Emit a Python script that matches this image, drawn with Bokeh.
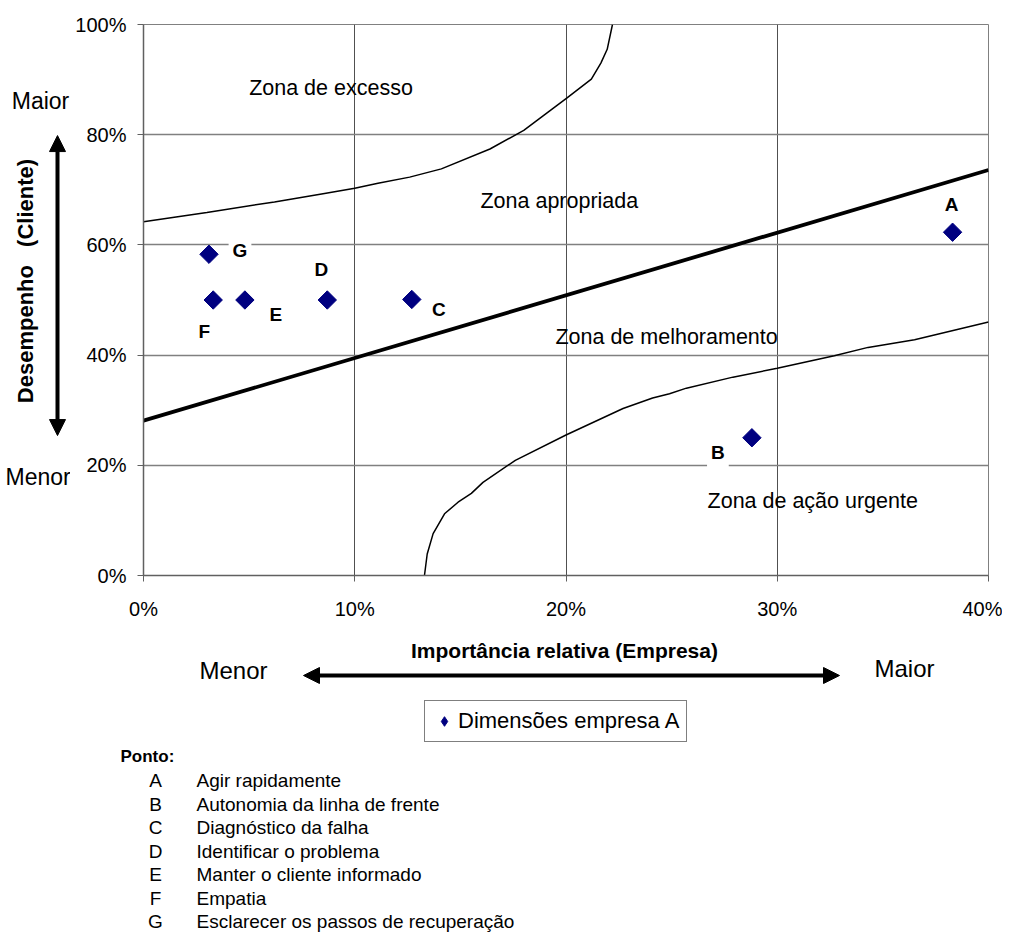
import numpy as np
from bokeh.plotting import figure
from bokeh.layouts import column, row
from bokeh.models import (ColumnDataSource, Label, Arrow, NormalHead, FixedTicker,
                          PrintfTickFormatter, Legend, LegendItem, Range1d)
from bokeh.embed import file_html
from bokeh.resources import INLINE

# ---------------- data ----------------
points = ["A", "B", "C", "D", "E", "F", "G"]
importance = [38.3, 28.8, 12.7, 8.7, 4.8, 3.3, 3.1]      # % (x)
performance = [62.3, 25.0, 50.1, 50.0, 50.0, 50.0, 58.3]  # % (y)
descriptions = [
    "Agir rapidamente",
    "Autonomia da linha de frente",
    "Diagnóstico da falha",
    "Identificar o problema",
    "Manter o cliente informado",
    "Empatia",
    "Esclarecer os passos de recuperação",
]

# straight boundary (apropriada / melhoramento)
mid_x = [0, 40]
mid_y = [28.1, 73.6]

# upper curve (excesso / apropriada)
upper_x = [0, 3.0, 6.2, 8.5, 10.0, 11.1, 12.6, 14.1, 16.4, 18.0, 20.05, 21.2, 21.65, 21.95, 22.2]
upper_y = [64.2, 65.9, 67.8, 69.3, 70.3, 71.2, 72.3, 73.8, 77.4, 80.8, 86.7, 90.1, 93.0, 95.5, 100]

# lower curve (melhoramento / acao urgente)
lower_x = [13.3, 13.43, 13.71, 14.25, 14.89, 15.52, 16.07, 17.6, 20.0, 22.7, 24.1, 24.9, 25.7,
           27.9, 30.0, 32.7, 34.3, 36.5, 40.0]
lower_y = [0, 3.9, 7.6, 11.2, 13.3, 14.9, 16.9, 20.9, 25.5, 30.3, 32.2, 33.0, 34.0,
           36.0, 37.6, 39.9, 41.4, 42.8, 46.0]

zone_names = ["Zona de excesso", "Zona apropriada", "Zona de melhoramento", "Zona de ação urgente"]
zone_x = [5.0, 15.95, 19.5, 26.7]
zone_y = [88.4, 67.9, 43.2, 13.6]

x_ticks = [0, 10, 20, 30, 40]
y_ticks = [0, 20, 40, 60, 80, 100]

legend_label = "Dimensões empresa A"
x_title = "Importância relativa (Empresa)"
y_title = ["Desempenho", "(Cliente)"]

FONT = "Liberation Sans"
W_TOTAL = 1002
LEFT_W = 70
TOP_H = 630
BOT_H = 308
FL, FR, FT, FB = 143, 988, 24, 575   # frame edges on the page

# ---------------- main chart ----------------
m = figure(width=W_TOTAL - LEFT_W, height=TOP_H, output_backend="svg", toolbar_location=None,
           x_range=Range1d(0, 40), y_range=Range1d(0, 100),
           min_border_left=FL - LEFT_W, min_border_top=FT,
           min_border_right=W_TOTAL - FR, min_border_bottom=TOP_H - FB)
m.background_fill_color = "white"
m.border_fill_color = "white"
m.outline_line_color = "#808080"
m.outline_line_width = 1

for ax, ticks in ((m.xaxis, x_ticks), (m.yaxis, y_ticks)):
    ax.ticker = FixedTicker(ticks=ticks)
    ax.formatter = PrintfTickFormatter(format="%d%%")
    ax.major_label_text_font = FONT
    ax.major_label_text_font_size = "20px"
    ax.major_label_text_color = "black"
    ax.axis_line_color = "#606060"
    ax.axis_line_width = 1.5
    ax.major_tick_line_color = "#606060"
    ax.major_tick_out = 6
    ax.major_tick_in = 0
    ax.minor_tick_line_color = None
m.xaxis.major_label_standoff = 16
m.yaxis.major_label_standoff = 11

m.xgrid.ticker = FixedTicker(ticks=x_ticks)
m.ygrid.ticker = FixedTicker(ticks=y_ticks)
m.xgrid.grid_line_color = "#505050"
m.xgrid.grid_line_width = 1
m.ygrid.grid_line_color = "#808080"
m.ygrid.grid_line_width = 1.3

m.line(upper_x, upper_y, line_color="black", line_width=1.5)
m.line(lower_x, lower_y, line_color="black", line_width=1.5)
m.line(mid_x, mid_y, line_color="black", line_width=3.8)

for name, zx, zy in zip(zone_names, zone_x, zone_y):
    m.add_layout(Label(x=zx, y=zy, text=name, text_font=FONT, text_font_size="21.5px",
                       text_align="left", text_baseline="middle", text_color="black"))

src = ColumnDataSource(dict(x=importance, y=performance, name=points))
m.scatter("x", "y", source=src, marker="square", angle=np.pi / 4, size=13,
          fill_color="#000080", line_color="#000080")

# point label placement (px offsets, up positive)
label_offsets = {"A": (-1, 28), "B": (-34, -15), "C": (27, -10), "D": (-6, 31),
                 "E": (31, -14), "F": (-9, -31), "G": (31, 4)}
for name, xv, yv in zip(points, importance, performance):
    ox, oy = label_offsets[name]
    m.add_layout(Label(x=xv, y=yv, x_offset=ox, y_offset=oy, text=name,
                       text_font=FONT, text_font_size="19px", text_font_style="bold",
                       text_color="black", text_align="center", text_baseline="middle",
                       background_fill_color="white", padding=4))


def blank(width, height, y0, y1):
    f = figure(width=width, height=height, output_backend="svg", toolbar_location=None,
               x_range=Range1d(0, width), y_range=Range1d(y1, y0),
               x_axis_type=None, y_axis_type=None, min_border=0)
    f.outline_line_color = None
    f.background_fill_color = "white"
    f.border_fill_color = "white"
    f.grid.visible = False
    return f


def put(f, x, y, text, size, bold=False, align="center", angle=0.0):
    f.add_layout(Label(x=x, y=y, text=text, text_font=FONT, text_font_size=size,
                       text_font_style="bold" if bold else "normal",
                       text_align=align, text_baseline="middle", angle=angle,
                       text_color="black"))


def head():
    return NormalHead(size=16, fill_color="black", line_color="black")

# ---------------- left strip (page coordinates) ----------------
lf = blank(LEFT_W, TOP_H, 0, TOP_H)
put(lf, 40, 88, "Maior", "23px")
put(lf, 5, 517, "Menor", "23px", align="left")
put(lf, 25, 354, y_title[0], "22px", bold=True, angle=np.pi / 2)
put(lf, 25, 204, y_title[1], "22px", bold=True, angle=np.pi / 2)
lf.add_layout(Arrow(x_start=57, y_start=470, x_end=57, y_end=127, line_width=4,
                    line_color="black", start=head(), end=head()))

# ---------------- bottom strip (page coordinates) ----------------
bf = blank(W_TOTAL, BOT_H, TOP_H, TOP_H + BOT_H)
put(bf, 564, 650, x_title, "21px", bold=True)
put(bf, 233, 670, "Menor", "24px")
put(bf, 904, 668, "Maior", "24px")
bf.add_layout(Arrow(x_start=303, y_start=675, x_end=839, y_end=675, line_width=4,
                    line_color="black", start=head(), end=head()))

# legend swatch proxy (no visible mark of its own)
proxy = bf.scatter(x=[np.nan], y=[np.nan], marker="diamond", size=13,
                   fill_color="#000080", line_color="#000080")
legend = Legend(items=[LegendItem(label=legend_label, renderers=[proxy])],
                location=(424, TOP_H + BOT_H - 742), orientation="horizontal",
                label_text_font=FONT, label_text_font_size="22px", label_text_color="black",
                border_line_color="black", border_line_width=1,
                background_fill_color="white", padding=7, margin=0,
                glyph_width=24, glyph_height=26, label_standoff=2, spacing=0)
bf.add_layout(legend, "center")

put(bf, 120, 756, "Ponto:", "17px", bold=True, align="left")
for i, (name, desc) in enumerate(zip(points, descriptions)):
    yy = 780 + i * 23.5
    put(bf, 155, yy, name, "19px")
    put(bf, 196, yy, desc, "19px", align="left")

p = column(row(lf, m, spacing=0), bf, spacing=0)
open("out.html", "w").write(file_html(p, INLINE))
